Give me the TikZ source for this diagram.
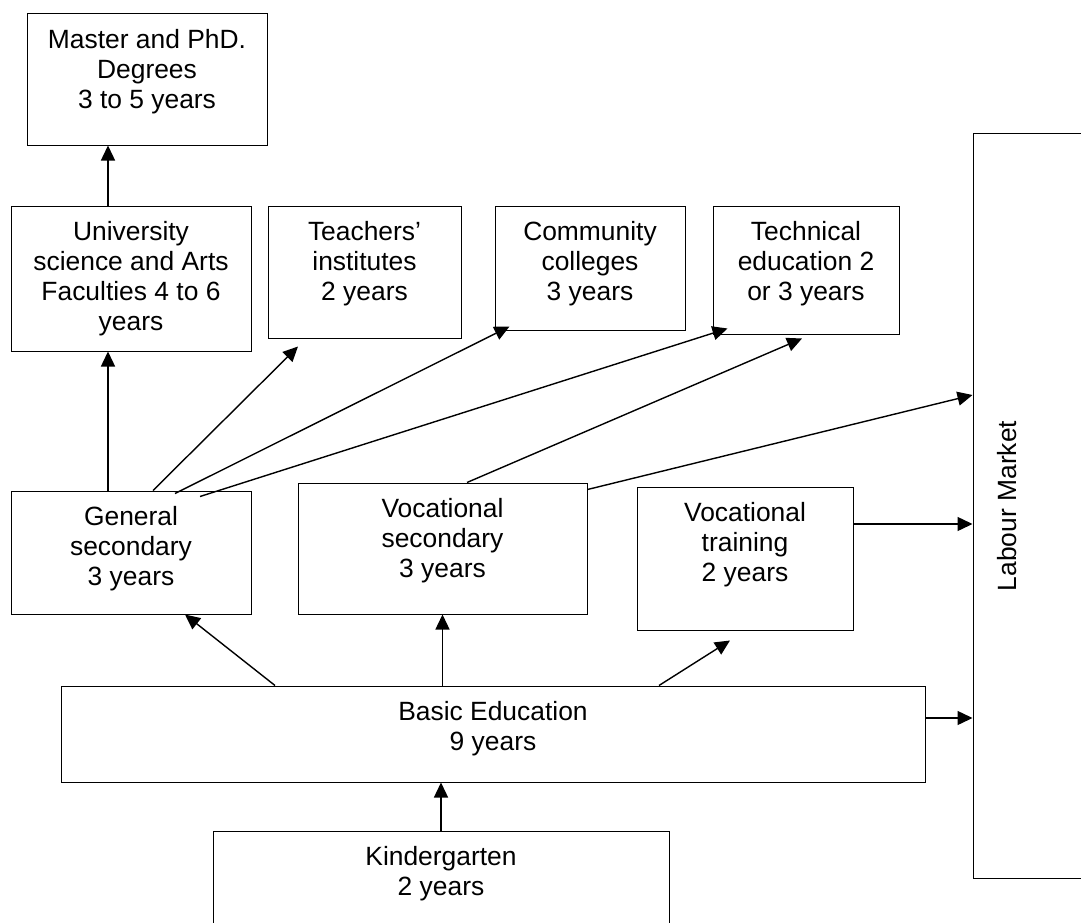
\documentclass[tikz,border=0pt]{standalone}
\usepackage{fontspec}
\setmainfont{Liberation Sans}
\usetikzlibrary{arrows.meta}

\begin{document}
\begin{tikzpicture}[x=1pt, y=-1pt,
  box/.style={draw, line width=1pt, inner sep=0pt},
  txt/.style={anchor=north, yshift=-16pt, align=center, inner sep=0pt, font=\fontsize{26.4}{30}\selectfont},
  side/.style={xshift=25pt, rotate=90, anchor=north, inner sep=0pt, font=\fontsize{26.4}{30}\selectfont},
  arr/.style={-{Triangle[length=15pt, width=14pt]}, line width=1.4pt}]
\useasboundingbox (0,0) rectangle (1081,923);
% higher education
\node[box, minimum width=240pt, minimum height=131pt, label={[txt]north:{Master and PhD.\\Degrees\\3 to 5 years}}] (master) at (147,79.5) {};
\node[box, minimum width=240pt, minimum height=145pt, label={[txt]north:{University\\science and Arts\\Faculties 4 to 6\\years}}] (uni) at (131,278.5) {};
\node[box, minimum width=193pt, minimum height=132pt, label={[txt]north:{Teachers’\\institutes\\2 years}}] (teach) at (364.5,272) {};
\node[box, minimum width=190pt, minimum height=124pt, label={[txt]north:{Community\\colleges\\3 years}}] (comm) at (590,268) {};
\node[box, minimum width=186pt, minimum height=128pt, label={[txt]north:{Technical\\education 2\\or 3 years}}] (tech) at (806,270) {};
% labour market
\node[box, minimum width=200pt, minimum height=744pt, label={[side]west:Labour Market}] (labour) at (1073,506) {};
% secondary
\node[box, minimum width=240pt, minimum height=123pt, label={[txt]north:{General\\secondary\\3 years}}] (gen) at (131,552.5) {};
\node[box, minimum width=289pt, minimum height=131pt, label={[txt]north:{Vocational\\secondary\\3 years}}] (vocsec) at (442.5,548.5) {};
\node[box, minimum width=216pt, minimum height=143pt, label={[txt]north:{Vocational\\training\\2 years}}] (voctr) at (745,558.5) {};
% basic and kindergarten
\node[box, minimum width=864pt, minimum height=96pt, label={[txt]north:{Basic Education\\9 years}}] (basic) at (493,734) {};
\node[box, minimum width=456pt, minimum height=129pt, label={[txt]north:{Kindergarten\\2 years}}] (kinder) at (441,895.5) {};
% arrows
\draw[arr] ([xshift=-23pt]uni.north) -- ([xshift=-39pt]master.south);
\draw[arr] ([xshift=-23pt]gen.north) -- ([xshift=-23pt]uni.south);
\draw[arr] ([xshift=22pt]gen.north) -- ([xshift=-66.5pt, yshift=-8pt]teach.south);
\draw[arr] ([xshift=44pt, yshift=-3pt]gen.north) -- ([xshift=15pt, yshift=4pt]comm.south west);
\draw[arr] ([xshift=69pt, yshift=-6pt]gen.north) -- ([xshift=15pt, yshift=6pt]tech.south west);
\draw[arr] ([xshift=24.5pt]vocsec.north) -- ([xshift=-4pt, yshift=-4pt]tech.south);
\draw[arr] ([yshift=-7pt]vocsec.north east) -- ([yshift=111pt]labour.west);
\draw[arr] ([yshift=34.5pt]voctr.east) -- ([yshift=34.5pt]voctr.east -| labour.west);
\draw[arr] ([xshift=-218pt]basic.north) -- ([xshift=54pt]gen.south);
\draw[arr] (vocsec.south |- basic.north) -- (vocsec.south);
\draw[arr] ([xshift=166pt]basic.north) -- ([xshift=-15pt, yshift=-10pt]voctr.south);
\draw[arr] ([yshift=16pt]basic.east) -- ([yshift=16pt]basic.east -| labour.west);
\draw[arr] (kinder.north) -- (kinder.north |- basic.south);
\end{tikzpicture}
\end{document}
